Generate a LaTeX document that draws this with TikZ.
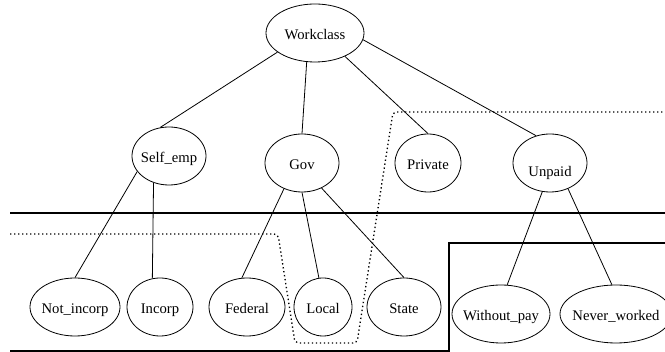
\documentclass[tikz,border=0pt]{standalone}
\usepackage{fontspec}
\setmainfont{Liberation Serif}
\usetikzlibrary{shapes.geometric}
\newcommand{\ctext}[1]{\makebox[0pt]{#1}}

\begin{document}
\begin{tikzpicture}[x=0.75pt, y=-0.75pt,
  attr/.style={draw, ellipse, line width=0.6pt, inner sep=0pt, minimum height=43.5pt,
    text height=10.5pt, text depth=0pt, font=\fontsize{11}{13}\selectfont},
  branch/.style={line width=0.6pt},
  cut/.style={line width=1.5pt},
  region/.style={line width=1pt, dash pattern=on 1pt off 2pt, rounded corners=3pt}]
\useasboundingbox (0,0) rectangle (665,352);

% Root
\node[attr, minimum width=73.5pt] (workclass) at (315,33) {\ctext{Workclass}};

% Second level
\node[attr, minimum width=55.5pt] (selfemp) at (169,156) {\ctext{Self\_emp}};
\node[attr, minimum width=55.5pt] (gov) at (302,163) {\ctext{Gov}};
\node[attr, minimum width=49.5pt] (private) at (428,163) {\ctext{Private}};
\node[attr, minimum width=55.5pt] (unpaid) at (550,163) {\ctext{\raisebox{-5.25pt}{Unpaid}}};

% Leaves
\node[attr, minimum width=67.5pt] (notincorp) at (75,307) {\ctext{Not\_incorp}};
\node[attr, minimum width=49.5pt] (incorp) at (160,307) {\ctext{Incorp}};
\node[attr, minimum width=57pt] (federal) at (247,307) {\ctext{Federal}};
\node[attr, minimum width=43.5pt] (local) at (323,307) {\ctext{Local}};
\node[attr, minimum width=55.5pt] (state) at (404,307) {\ctext{State}};
\node[attr, minimum width=73.5pt] (withoutpay) at (501,314) {\ctext{Without\_pay}};
\node[attr, minimum width=84pt] (neverworked) at (616,314) {\ctext{Never\_worked}};

% Edges
\draw[branch] (workclass.207) -- (selfemp.107);
\draw[branch] (workclass.254) -- (gov.90);
\draw[branch] (workclass.322) -- (private.90);
\draw[branch] (workclass.352) -- (unpaid.117);
\draw[branch] (selfemp.206) -- (notincorp.90);
\draw[branch] (selfemp.240) -- (incorp.105);
\draw[branch] (gov.235) -- (federal.100);
\draw[branch] (gov.270) -- (local.98);
\draw[branch] (gov.308) -- (state.90);
\draw[branch] (unpaid.255) -- (withoutpay.78);
\draw[branch] (unpaid.305) -- (neverworked.98);

% Cuts
\draw[cut] (10,213) -- (665,213);
\draw[cut] (10,351) -- (449,351) -- (449,243) -- (665,243);
\draw[region] (10,234) -- (278,234) -- (295,343) -- (357,343) -- (393,112) -- (665,112);
\end{tikzpicture}
\end{document}
